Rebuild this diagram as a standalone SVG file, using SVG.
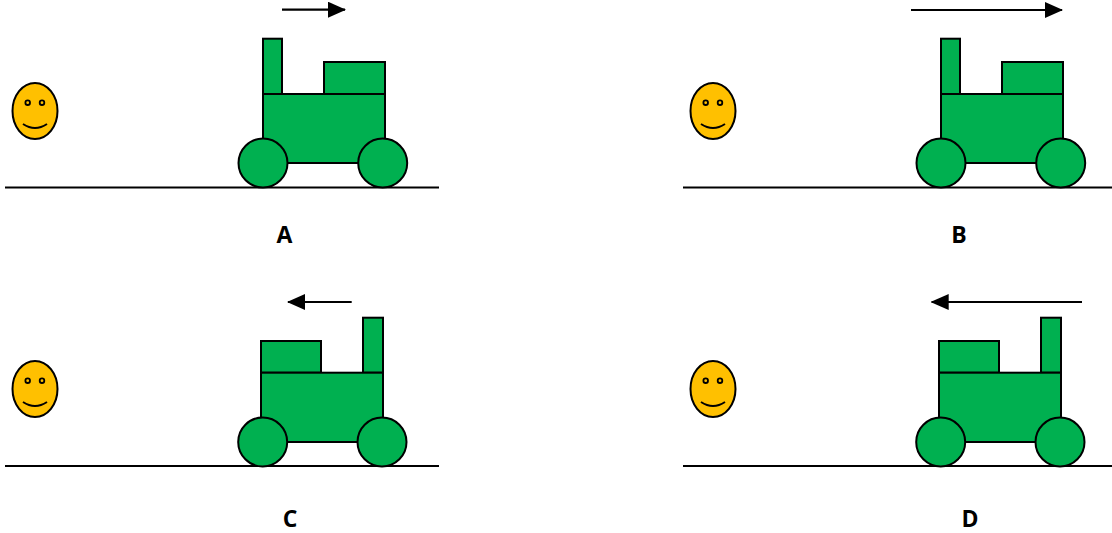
<svg xmlns="http://www.w3.org/2000/svg" width="1112" height="533" viewBox="0 0 1112 533">
  <defs>
    <style>
      .part { fill: #00B050; stroke: #000; stroke-width: 2; }
      .ground { stroke: #000; stroke-width: 2; }
      .face { fill: #FFC000; stroke: #000; stroke-width: 2; }
      .eye { fill: none; stroke: #000; stroke-width: 1.8; }
      .smile { fill: none; stroke: #000; stroke-width: 2; }
      .move { stroke: #000; stroke-width: 2.2; fill: none; marker-end: url(#head); }
      .label { font-family: "Open Sans", "Liberation Sans", sans-serif; font-weight: bold; font-size: 23px; fill: #000; text-anchor: middle; }
    </style>
    <marker id="head" viewBox="0 0 18 16" refX="17" refY="8" markerUnits="userSpaceOnUse" markerWidth="18" markerHeight="16" orient="auto">
      <path d="M0,0 L18,8 L0,16 Z" fill="#000"/>
    </marker>
    <!-- smiley observer, centred at origin -->
    <g id="smiley">
      <ellipse class="face" cx="0" cy="0" rx="22.5" ry="28"/>
      <circle class="eye" cx="-7.3" cy="-8.3" r="2.3"/>
      <circle class="eye" cx="7" cy="-8.3" r="2.3"/>
      <path class="smile" d="M-12,13 Q0,21 12,13"/>
    </g>
    <!-- engine facing right: chimney at the rear-left, cab at the front-right -->
    <g id="engine-right">
      <rect class="part" x="0" y="-55.3" width="19" height="55.3"/>
      <rect class="part" x="61" y="-32" width="61" height="32"/>
      <rect class="part" x="0" y="0" width="122" height="69"/>
      <circle class="part" cx="0" cy="69" r="24.5"/>
      <circle class="part" cx="119.7" cy="69" r="24.5"/>
    </g>
    <!-- engine facing left: cab at the left, chimney at the right -->
    <g id="engine-left">
      <rect class="part" x="102" y="-55" width="20" height="55"/>
      <rect class="part" x="0" y="-31.7" width="60" height="31.7"/>
      <rect class="part" x="0" y="0" width="122" height="69.3"/>
      <circle class="part" cx="1.7" cy="69.3" r="24.5"/>
      <circle class="part" cx="121" cy="69.3" r="24.5"/>
    </g>
  </defs>

  <!-- panel A -->
  <g id="panel-a">
    <line class="ground" x1="5" y1="187.5" x2="439" y2="187.5"/>
    <use href="#smiley" x="35" y="111"/>
    <use href="#engine-right" x="263" y="94"/>
    <text class="label" x="284.5" y="243">A</text>
  </g>

  <!-- panel B -->
  <g id="panel-b">
    <line class="ground" x1="683" y1="187.5" x2="1112" y2="187.5"/>
    <use href="#smiley" x="713" y="111"/>
    <use href="#engine-right" x="941" y="94"/>
    <text class="label" x="959" y="243">B</text>
  </g>

  <!-- panel C -->
  <g id="panel-c">
    <line class="ground" x1="5" y1="466" x2="439" y2="466"/>
    <use href="#smiley" x="35" y="389"/>
    <use href="#engine-left" x="261" y="372.7"/>
    <text class="label" x="290" y="527">C</text>
  </g>

  <!-- panel D -->
  <g id="panel-d">
    <line class="ground" x1="683" y1="466" x2="1112" y2="466"/>
    <use href="#smiley" x="713" y="389"/>
    <use href="#engine-left" x="939" y="372.7"/>
    <text class="label" x="970" y="527">D</text>
  </g>

  <!-- direction-of-travel arrows -->
  <g id="connectors">
    <line class="move" x1="282" y1="9.7" x2="345" y2="9.7"/>
    <line class="move" x1="911" y1="10" x2="1062" y2="10"/>
    <line class="move" x1="351.7" y1="302" x2="288" y2="302"/>
    <line class="move" x1="1082" y1="302" x2="931.7" y2="302"/>
  </g>
</svg>
